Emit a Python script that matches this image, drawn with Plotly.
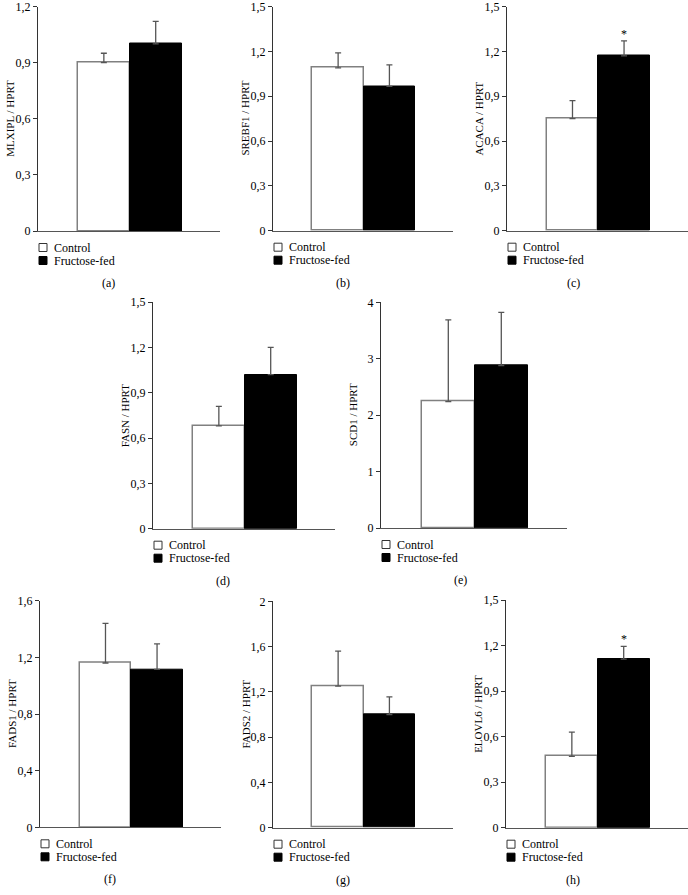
import plotly.graph_objects as go

# ---------------- data ----------------
groups = ["Control", "Fructose-fed"]
genes = ["MLXIPL", "SREBF1", "ACACA", "FASN", "SCD1", "FADS1", "FADS2", "ELOVL6"]
panel_letters = ["(a)", "(b)", "(c)", "(d)", "(e)", "(f)", "(g)", "(h)"]
control_mean = [0.90, 1.09, 0.75, 0.68, 2.24, 1.16, 1.25, 0.47]
control_err = [0.05, 0.10, 0.12, 0.13, 1.45, 0.28, 0.31, 0.16]
fructose_mean = [1.00, 0.965, 1.17, 1.02, 2.88, 1.115, 1.00, 1.11]
fructose_err = [0.12, 0.145, 0.10, 0.18, 0.94, 0.18, 0.155, 0.085]
y_max = [1.2, 1.5, 1.5, 1.5, 4, 1.6, 2, 1.5]
y_step = [0.3, 0.3, 0.3, 0.3, 1, 0.4, 0.4, 0.3]
significant = [False, False, True, False, False, False, False, True]

# ---------------- layout geometry (pixels: left, right, top, bottom) ----------------
W, H = 688, 895
boxes = [
    (38, 220, 6.5, 231),
    (273, 453, 6.5, 230.7),
    (507, 688, 6.5, 230.7),
    (153, 335, 302, 528.7),
    (381, 567, 302.3, 528),
    (40, 221, 600.7, 827.3),
    (273, 453, 601.3, 827.7),
    (506, 688, 600, 827.7),
]
label_dx = [70, 70, 66, 70, 79, 70, 70, 67]

SERIF = "Liberation Serif, Times New Roman, serif"
fig = go.Figure()
annotations = []
shapes = []
layout_axes = {}

for i, gene in enumerate(genes):
    n = "" if i == 0 else str(i + 1)
    xa, ya = "x" + n, "y" + n
    l, r, t, b = boxes[i]
    fig.add_trace(go.Bar(
        x=[groups[0]], y=[control_mean[i]], xaxis=xa, yaxis=ya,
        marker=dict(color="white", line=dict(color="#808080", width=1.5)),
        error_y=dict(type="data", symmetric=False, array=[control_err[i]], arrayminus=[0],
                     color="#555555", thickness=1.3, width=3),
        showlegend=False, hoverinfo="skip"))
    fig.add_trace(go.Bar(
        x=[groups[1]], y=[fructose_mean[i]], xaxis=xa, yaxis=ya,
        marker=dict(color="black", line=dict(color="black", width=1)),
        error_y=dict(type="data", symmetric=False, array=[fructose_err[i]], arrayminus=[0],
                     color="#555555", thickness=1.3, width=3),
        showlegend=False, hoverinfo="skip"))

    layout_axes["xaxis" + n] = dict(
        domain=[l / W, r / W], anchor=ya, type="category",
        categoryorder="array", categoryarray=groups, automargin=False,
        range=[-1.27, 2.24], showticklabels=False, ticks="",
        showline=True, linecolor="#555555", linewidth=1.2,
        showgrid=False, zeroline=False, fixedrange=True)
    layout_axes["yaxis" + n] = dict(
        domain=[1 - b / H, 1 - t / H], anchor=xa, automargin=False,
        range=[0, y_max[i]], dtick=y_step[i], tick0=0,
        showline=True, linecolor="#333333", linewidth=1,
        ticks="outside", ticklen=4, tickcolor="#333333", tickwidth=1,
        ticklabeloverflow="allow",
        tickfont=dict(family=SERIF, size=12, color="black"),
        showgrid=False, zeroline=False, fixedrange=True)

    xd, yd = xa + " domain", ya + " domain"
    # y-axis title
    annotations.append(dict(
        text=f"{gene} / HPRT", xref=xd, yref=yd, x=0, y=0.5, xshift=-28,
        textangle=-90, showarrow=False, xanchor="center", yanchor="middle",
        font=dict(family=SERIF, size=11, color="black")))
    # legend entries
    for k, (name, fill, line) in enumerate([(groups[0], "white", "#333333"),
                                            (groups[1], "black", "black")]):
        yoff = -16.5 - 13 * k
        shapes.append(dict(
            type="rect", xref=xd, yref=yd, xsizemode="pixel", ysizemode="pixel",
            xanchor=0, yanchor=0, x0=1, x1=9, y0=yoff - 4, y1=yoff + 4,
            fillcolor=fill, line=dict(color=line, width=1)))
        annotations.append(dict(
            text=name, xref=xd, yref=yd, x=0, y=0, xshift=14, yshift=yoff,
            xanchor="left", yanchor="middle", showarrow=False,
            font=dict(family=SERIF, size=12, color="black")))
    # panel label
    annotations.append(dict(
        text=panel_letters[i], xref=xd, yref=yd, x=0, y=0, xshift=label_dx[i], yshift=-52,
        xanchor="center", yanchor="middle", showarrow=False,
        font=dict(family=SERIF, size=12, color="black")))
    # significance star
    if significant[i]:
        annotations.append(dict(
            text="*", xref=xa, yref=ya, x=groups[1], y=fructose_mean[i] + fructose_err[i],
            xanchor="center", yanchor="bottom", yshift=-2, showarrow=False,
            font=dict(family=SERIF, size=12, color="black")))

fig.update_layout(
    width=W, height=H, margin=dict(l=0, r=0, t=0, b=0, autoexpand=False),
    paper_bgcolor="white", plot_bgcolor="white",
    barmode="overlay", bargap=0, separators=",.",
    showlegend=False, annotations=annotations, shapes=shapes,
    **layout_axes)

fig.write_html("out.html", config={"displayModeBar": False},
               post_script="document.body.style.margin='0';document.body.style.padding='0';")
